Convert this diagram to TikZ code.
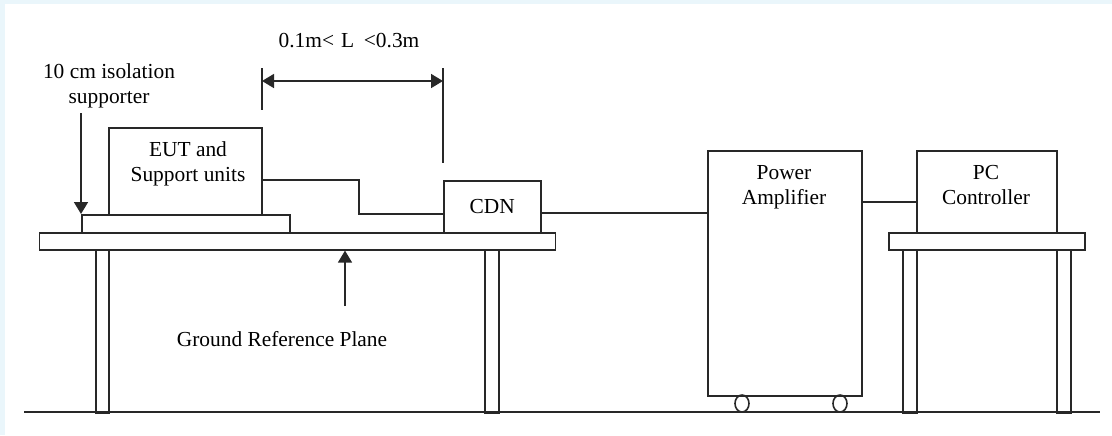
\documentclass[tikz,border=0pt]{standalone}
\usepackage{fontspec}
\setmainfont{Liberation Serif}
\usetikzlibrary{arrows.meta,shapes.geometric}
\definecolor{bgblue}{RGB}{234,246,251}
\definecolor{ink}{RGB}{40,40,40}
\tikzset{
  ln/.style={draw=ink, line width=0.8pt},
  box/.style={ln, rectangle, inner sep=0pt, anchor=north west},
  wheel/.style={ln, ellipse, inner sep=0pt, minimum width=7pt, minimum height=8.5pt},
  lbl/.style={inner sep=0pt, align=center, anchor=base, text=black},
  tip/.style={-{Triangle[length=6pt,width=7pt]}},
  tips/.style={{Triangle[length=6pt,width=7pt]}-{Triangle[length=6pt,width=7pt]}}
}
\begin{document}
\begin{tikzpicture}[x=0.5pt,y=-0.5pt,font=\fontsize{10.7}{12.5}\selectfont]
\useasboundingbox (0,0) rectangle (1112,435);
\fill[bgblue] (0,0) rectangle (1112,435);
\fill[white] (5,4) rectangle (1112,435);

% floor
\coordinate (floorL) at (24,412);
\coordinate (floorR) at (1100,412);
\draw[ln] (floorL) -- (floorR);

% left table
\node[box, minimum width=258pt, minimum height=8.5pt] (plate1) at (38.5,232) {};
\node[box, minimum width=6.5pt, minimum height=81.5pt] (leg1a) at (95,249) {};
\node[box, minimum width=7pt, minimum height=81.5pt] (leg1b) at (484,249) {};

% isolation support and EUT
\node[box, minimum width=104pt, minimum height=9pt] (support) at (81,214) {};
\node[box, minimum width=76.5pt, minimum height=43.5pt] (eut) at (108,127) {};
\node[lbl] (euttxt) at (188,181) {EUT and\\Support units};

% CDN
\node[box, minimum width=48.5pt, minimum height=26pt] (cdn) at (443,180) {};
\node[lbl, anchor=center] (cdntxt) at (cdn.center) {CDN};

% power amplifier
\node[box, minimum width=77pt, minimum height=122.5pt] (amp) at (707,150) {};
\node[lbl] (amptxt) at (784,204) {Power\\Amplifier};
\node[wheel] (w1) at (742,403.5) {};
\node[wheel] (w2) at (840,403.5) {};

% PC controller and its table
\node[box, minimum width=98pt, minimum height=8.5pt] (plate2) at (888,232) {};
\node[box, minimum width=7pt, minimum height=81.5pt] (leg2a) at (902,249) {};
\node[box, minimum width=7pt, minimum height=81.5pt] (leg2b) at (1056,249) {};
\node[box, minimum width=70pt, minimum height=41pt] (pc) at (916,150) {};
\node[lbl] (pctxt) at (986,204) {PC\\Controller};

% cables
\coordinate (bend) at (359,214);
\draw[ln] (eut.east |- cdn.north) -| (bend) -- (bend -| cdn.west);
\coordinate (c1) at (620,213);
\draw[ln] (cdn.east |- c1) -- (amp.west |- c1);
\coordinate (c2) at (890,202);
\draw[ln] (amp.east |- c2) -- (pc.west |- c2);

% dimension L
\coordinate (dLt) at (262,68);
\coordinate (dLb) at (262,110);
\coordinate (dRt) at (443,68);
\coordinate (dRb) at (443,163);
\coordinate (dA) at (262,81);
\coordinate (dB) at (443,81);
\draw[ln] (dLt) -- (dLb);
\draw[ln] (dRt) -- (dRb);
\draw[ln, tips] (dA) -- (dB);
\node[lbl] (dimtxt) at (349,47) {0.1m<\hspace{0.33em}L\hspace{0.45em}<0.3m};

% isolation supporter label and arrow
\node[lbl] (isotxt) at (109,103) {10 cm isolation\\supporter};
\coordinate (isoTop) at (81,113);
\draw[ln, tip] (isoTop) -- (support.north west);

% ground reference plane label and arrow
\coordinate (grpTail) at (345,306);
\draw[ln, tip] (grpTail) -- (grpTail |- plate1.south);
\node[lbl] (grptxt) at (282,346) {Ground Reference Plane};
\end{tikzpicture}
\end{document}
